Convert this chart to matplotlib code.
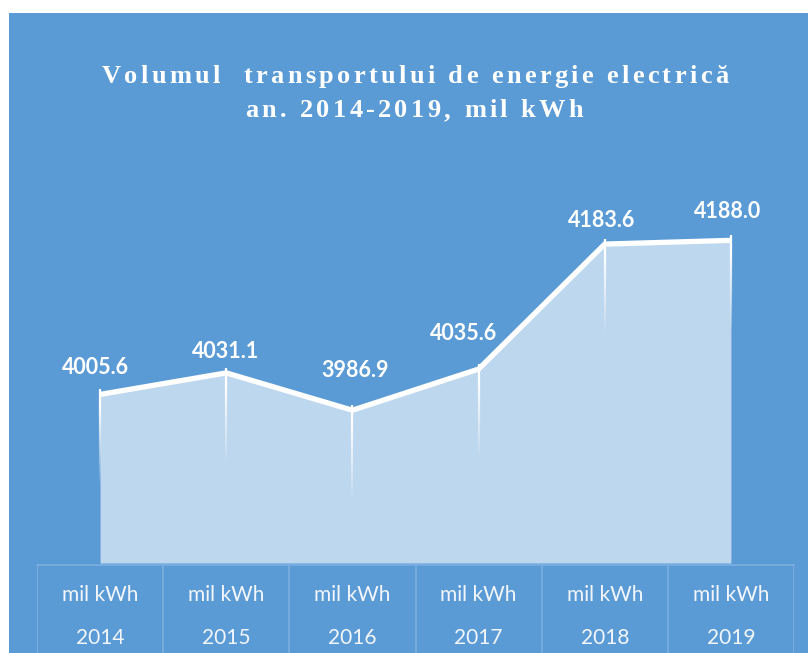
import numpy as np
import matplotlib
matplotlib.use("Agg")
import matplotlib.pyplot as plt
from matplotlib.patches import Rectangle
from matplotlib.collections import LineCollection
from matplotlib.font_manager import FontProperties, findfont, get_font

years = ["2014", "2015", "2016", "2017", "2018", "2019"]
units = ["mil kWh"] * 6
volume = [4005.6, 4031.1, 3986.9, 4035.6, 4183.6, 4188.0]
title_lines = ["Volumul  transportului de energie electrică",
               "an. 2014-2019, mil kWh"]

W, H = 808, 653
BG = "#5B9BD5"
FILL = "#BDD7EE"
GRID = "#7BAFE0"

# label offsets (px) relative to each point
label_dx = [-5, -1, 3, -15, -3, -3]
label_dy = [27, 21, 40, 36, 24, 29]


def px_box(left, top, right, bottom):
    return [left / W, 1 - bottom / H, (right - left) / W, (bottom - top) / H]


def tracked_title(fig, s, cx, base_y, size, track):
    fp = FontProperties(family="Liberation Serif", weight="bold", size=size)
    font = get_font(findfont(fp))
    font.set_size(size, fig.dpi)
    adv = [font.load_char(ord(ch)).linearHoriAdvance / 65536 for ch in s]
    total = sum(adv) + track * (len(s) - 1)
    x = cx - total / 2
    for ch, a in zip(s, adv):
        if ch != " ":
            fig.text(x / W, 1 - base_y / H, ch, fontproperties=fp,
                     color="white", ha="left", va="baseline")
        x += a + track


fig = plt.figure(figsize=(W / 100, H / 100), dpi=100, facecolor="white")
fig.patches.append(Rectangle((9 / W, 0), (W - 9) / W, (H - 13) / H,
                             transform=fig.transFigure, facecolor=BG,
                             edgecolor="none", zorder=-10))

tracked_title(fig, title_lines[0], 415, 83, 19, 3.35)
tracked_title(fig, title_lines[1], 414, 117, 19, 3.35)

# main area chart
ax = fig.add_axes(px_box(37, 188, 794, 563))
ax.set_facecolor("none")
x = np.arange(len(years))
ymin, ymax = 3806, 4250
ax.set_xlim(-0.5, len(years) - 0.5)
ax.set_ylim(ymin, ymax)
ax.fill_between(x, volume, ymin, color=FILL, linewidth=0, zorder=1)

# fading drop lines
fade_len = 110
for xi, v in zip(x, volume):
    ys = np.linspace(v + 6, v - fade_len, 40)
    segs = [[(xi, ys[i]), (xi, ys[i + 1])] for i in range(len(ys) - 1)]
    alphas = np.clip(np.linspace(1.2, 0, len(segs)), 0, 1)
    cols = [(1, 1, 1, a) for a in alphas]
    ax.add_collection(LineCollection(segs, colors=cols, linewidths=1.6, zorder=2))

ax.plot(x, volume, color="white", linewidth=3.8, solid_joinstyle="miter",
        solid_capstyle="butt", zorder=3)

for xi, v, dx, dy in zip(x, volume, label_dx, label_dy):
    ax.annotate(f"{v:.1f}", (xi, v), xytext=(dx * 0.72, dy * 0.72),
                textcoords="offset points", ha="center", va="center",
                color="white", fontsize=15.5, fontweight="bold", family="Lato",
                zorder=4)

ax.axis("off")

# table under the chart
tb = fig.add_axes(px_box(37, 565, 794, H))
tb.set_facecolor("none")
tb.set_xlim(-0.5, len(years) - 0.5)
tb.set_ylim(0, 1)
tb.axis("off")
tb.axhline(1, color=GRID, linewidth=1.2, clip_on=False)
for b in np.arange(len(years) + 1) - 0.5:
    tb.axvline(b, color=GRID, linewidth=1.2)
for xi, u, yr in zip(x, units, years):
    tb.text(xi, 0.66, u, ha="center", va="center", color="#F2F6FB",
            fontsize=15, family="Lato")
    tb.text(xi, 0.17, yr, ha="center", va="center", color="#F2F6FB",
            fontsize=15, family="Lato")

fig.savefig("out.png", dpi=100, facecolor="white")
